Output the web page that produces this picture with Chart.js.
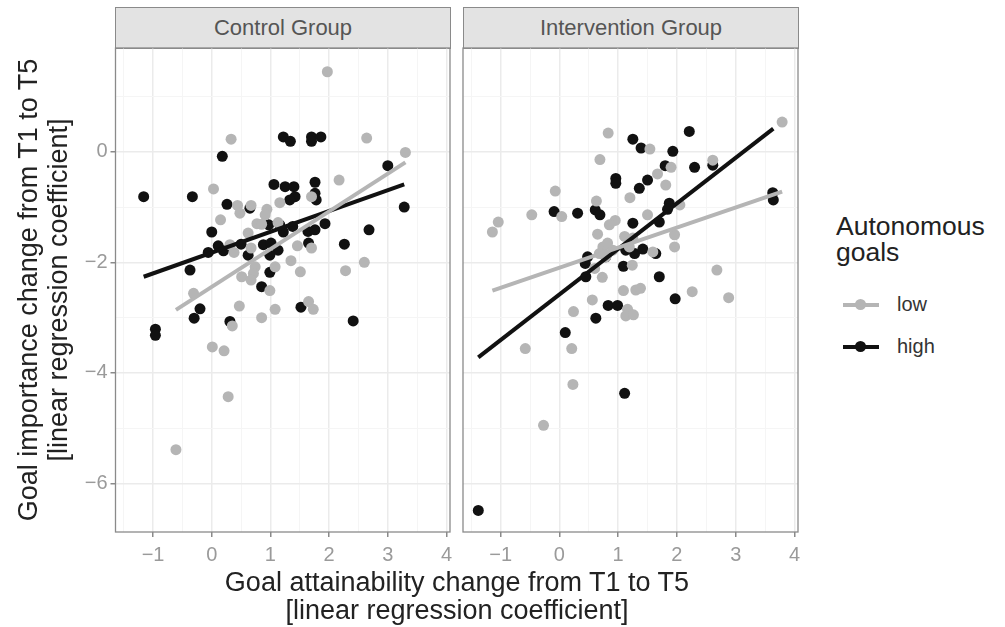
<!DOCTYPE html>
<html>
<head>
<meta charset="utf-8">
<script src="https://cdn.jsdelivr.net/npm/chart.js@4"></script>
<style>
  body { margin: 0; background: #fff; font-family: "Liberation Sans", Arial, sans-serif; }
  #wrap { position: relative; width: 1005px; height: 627px; overflow: hidden; }
  canvas { position: absolute; }
  .strip {
    position: absolute; top: 7px; height: 42px; box-sizing: border-box;
    background: #e3e3e3; border: 1.3px solid #8a8a8a;
    color: #555; font-size: 22px; text-align: center; line-height: 40px;
  }
  .ytitle {
    position: absolute; left: 43px; top: 290px; width: 560px;
    transform: translate(-50%, -50%) rotate(-90deg);
    text-align: center; font-size: 27px; line-height: 30px; color: #222;
  }
  .xtitle {
    position: absolute; left: 157px; top: 568px; width: 600px;
    text-align: center; font-size: 27px; line-height: 28px; color: #222;
  }
  .legtitle { position: absolute; left: 836px; top: 213px; font-size: 26.5px; line-height: 26px; color: #222; }
  .key { position: absolute; left: 843px; width: 36px; height: 4px; }
  .key i { position: absolute; left: 12px; top: -4px; width: 11px; height: 11px; border-radius: 50%; }
  .keylab { position: absolute; left: 897px; font-size: 20px; color: #333; }
</style>
</head>
<body>
<div id="wrap">
  <div class="strip" style="left:115px; width:336px;">Control Group</div>
  <div class="strip" style="left:463px; width:336px;">Intervention Group</div>
  <canvas id="ctrl" width="400" height="530" style="left:60px; top:40px;"></canvas>
  <canvas id="intv" width="360" height="530" style="left:455px; top:40px;"></canvas>
  <div class="ytitle">Goal importance change from T1 to T5<br>[linear regression coefficient]</div>
  <div class="xtitle">Goal attainability change from T1 to T5<br>[linear regression coefficient]</div>
  <div class="legtitle">Autonomous<br>goals</div>
  <div class="key" style="top:303px; background:#b5b5b5;"><i style="background:#b5b5b5;"></i></div>
  <div class="keylab" style="top:293px;">low</div>
  <div class="key" style="top:345px; background:#111;"><i style="background:#111;"></i></div>
  <div class="keylab" style="top:335px;">high</div>
</div>
<script>
// gruppen und farben
const groupNames = ['low', 'high'];
const groupColors = ['#b5b5b5', '#111111'];

// achsen
const xRange = [-1.64, 4.06];
const yRange = [-6.88, 1.88];
const xMajor = [-1, 0, 1, 2, 3, 4];
const xMinor = [-1.5, -0.5, 0.5, 1.5, 2.5, 3.5];
const yMajor = [-6, -4, -2, 0];
const yMinor = [-5, -3, -1, 1];

// Control Group, low
const ctrlLowX = [1.97, 0.33, 2.64, 3.30, 2.17, 0.03, 1.16, 1.70, 0.44, 0.48, 0.67, 0.94, 0.91, 0.15, 0.77, 1.13, 0.85,
  0.62, 0.31, 0.38, 0.67, 1.46, 1.70, 1.35, 1.08, 1.51, 0.74, 0.71, 0.51, 0.67, 2.28, 2.60, 0.99, -0.31, 0.47,
  1.08, 1.65, 1.73, 0.85, 0.35, 0.01, 0.21, 0.28, -0.61];
const ctrlLowY = [1.45, 0.23, 0.25, -0.01, -0.51, -0.67, -0.92, -0.81, -0.97, -1.11, -0.97, -1.04, -1.14, -1.23, -1.30, -1.28, -1.31,
  -1.47, -1.68, -1.82, -1.74, -1.70, -1.74, -1.97, -2.08, -2.17, -2.08, -2.20, -2.26, -2.32, -2.15, -2.00, -2.51, -2.56, -2.79,
  -2.85, -2.71, -2.85, -3.00, -3.15, -3.53, -3.60, -4.43, -5.39];

// Control Group, high
const ctrlHighX = [-1.16, -0.33, 0.18, 1.22, 1.34, 1.70, 1.86, 1.70, 3.00, 3.28, 1.06, 1.25, 1.40, 1.76, 1.42, 1.33, 1.76, 1.78,
  0.26, 0.65, 0.00, 0.97, 1.16, 1.38, 1.93, 1.64, 1.76, 2.68, 1.22, 0.11, -0.06, 0.20, 0.50, 0.88, 1.01, 1.13, 0.99, 0.62,
  1.65, 2.26, -0.37, 0.99, 0.85, 1.52, -0.20, -0.30, 0.31, 2.41, -0.96, -0.96];
const ctrlHighY = [-0.81, -0.81, -0.08, 0.27, 0.19, 0.27, 0.27, 0.19, -0.25, -1.00, -0.59, -0.63, -0.63, -0.55, -0.81, -0.87, -0.75, -0.87,
  -0.95, -1.02, -1.45, -1.32, -1.32, -1.35, -1.30, -1.44, -1.41, -1.41, -1.45, -1.70, -1.82, -1.79, -1.67, -1.68, -1.65, -1.78, -1.87, -1.87,
  -1.65, -1.67, -2.14, -2.18, -2.44, -2.81, -2.84, -3.01, -3.07, -3.06, -3.21, -3.32];

// Intervention Group, low
const intvLowX = [3.79, 0.83, 1.54, 0.69, 2.61, 1.90, 1.67, 1.81, -0.07, 0.63, 1.20, -0.47, 0.04, -1.04, 1.50, 2.05, 0.95, 0.85,
  -1.14, 0.65, 1.11, 1.96, 1.96, 0.74, 0.82, 0.91, 0.68, 0.79, 1.59, 1.25, 1.19, 0.60, 1.24, 0.73, 2.68, 1.09, 1.30, 1.38,
  2.26, 2.88, 0.56, 0.24, 1.16, 1.13, 1.26, -0.58, 0.21, 0.23, -0.27];
const intvLowY = [0.54, 0.34, 0.05, -0.14, -0.15, -0.28, -0.40, -0.60, -0.71, -0.89, -0.83, -1.14, -1.17, -1.27, -1.14, -0.96, -1.24, -1.32,
  -1.45, -1.49, -1.53, -1.50, -1.72, -1.72, -1.65, -1.78, -1.84, -1.90, -1.81, -1.56, -1.72, -2.11, -2.05, -2.27, -2.14, -2.51, -2.50, -2.47,
  -2.53, -2.64, -2.68, -2.89, -2.85, -2.97, -2.95, -3.56, -3.56, -4.21, -4.95];

// Intervention Group, high
const intvHighX = [2.21, 1.25, 1.39, 1.93, 1.80, 2.30, 2.61, 1.50, 0.96, 0.96, 1.36, 1.87, 1.84, -0.09, 0.31, 0.61, 0.69, 1.25,
  1.70, 3.63, 3.64, 0.48, 0.44, 0.79, 1.13, 1.28, 1.42, 1.64, 1.09, 0.45, 1.70, 1.97, 0.83, 0.99, 0.62, 0.10, 1.11, -1.38];
const intvHighY = [0.37, 0.23, 0.07, 0.01, -0.25, -0.28, -0.24, -0.51, -0.48, -0.57, -0.66, -0.93, -1.04, -1.08, -1.11, -1.05, -1.14, -1.29,
  -1.27, -0.74, -0.87, -1.90, -2.02, -1.90, -1.78, -1.84, -1.76, -1.84, -2.07, -2.26, -2.26, -2.66, -2.78, -2.78, -3.01, -3.27, -4.37, -6.49];

const ctrlLowFitX = [-0.61, 3.30], ctrlLowFitY = [-2.86, -0.19];
const ctrlHighFitX = [-1.16, 3.28], ctrlHighFitY = [-2.26, -0.59];
const intvLowFitX = [-1.14, 3.79], intvLowFitY = [-2.51, -0.72];
const intvHighFitX = [-1.38, 3.64], intvHighFitY = [-3.72, 0.42];

const toPts = (xs, ys) => xs.map((x, i) => ({ x: x, y: ys[i] }));
const fmt = v => (v < 0 ? '\u2212' + Math.abs(v) : String(v));

// rahmen um das panel
const panelBorder = {
  id: 'panelBorder',
  afterDraw(chart) {
    const a = chart.chartArea, c = chart.ctx;
    c.save();
    c.strokeStyle = '#8a8a8a';
    c.lineWidth = 1.3;
    c.strokeRect(a.left, a.top, a.right - a.left, a.bottom - a.top);
    c.restore();
  }
};

function makePanel(id, low, high, lowFit, highFit, showY, padRight) {
  const mk = (pts, color) => ({
    type: 'scatter', data: pts, backgroundColor: color, borderWidth: 0,
    pointRadius: 5.5, pointHoverRadius: 5.5, order: 2
  });
  const ln = (pts, color) => ({
    type: 'line', data: pts, borderColor: color, borderWidth: 4,
    pointRadius: 0, fill: false, order: 1
  });
  new Chart(document.getElementById(id), {
    type: 'scatter',
    data: {
      datasets: [
        mk(low, groupColors[0]),
        mk(high, groupColors[1]),
        ln(lowFit, groupColors[0]),
        ln(highFit, groupColors[1]),
      ],
    },
    options: {
      responsive: false,
      devicePixelRatio: 1,
      animation: false,
      events: [],
      layout: { padding: { top: 8, right: padRight, left: 0, bottom: 0 } },
      plugins: { legend: { display: false }, tooltip: { enabled: false } },
      scales: {
        x: {
          type: 'linear', min: xRange[0], max: xRange[1],
          afterBuildTicks: s => { s.ticks = xMajor.concat(xMinor).sort((a, b) => a - b).map(v => ({ value: v })); },
          afterFit: s => { s.height = 38; s.paddingLeft = 0; s.paddingRight = 0; },
          border: { display: false },
          grid: {
            color: c => xMajor.includes(c.tick.value) ? '#ebebeb' : '#f5f5f5',
            lineWidth: c => xMajor.includes(c.tick.value) ? 1.5 : 1,
            tickColor: c => xMajor.includes(c.tick.value) ? '#8a8a8a' : 'rgba(0,0,0,0)',
            tickLength: 5,
          },
          ticks: {
            autoSkip: false, maxRotation: 0, padding: 6,
            color: '#9a9a9a', font: { family: 'Liberation Sans', size: 20 },
            callback: v => xMajor.includes(v) ? fmt(v) : '',
          },
        },
        y: {
          type: 'linear', min: yRange[0], max: yRange[1],
          afterBuildTicks: s => { s.ticks = yMajor.concat(yMinor).sort((a, b) => a - b).map(v => ({ value: v })); },
          afterFit: s => { s.width = showY ? 55.5 : 8; s.paddingTop = 0; s.paddingBottom = 0; },
          border: { display: false },
          grid: {
            color: c => yMajor.includes(c.tick.value) ? '#ebebeb' : '#f5f5f5',
            lineWidth: c => yMajor.includes(c.tick.value) ? 1.5 : 1,
            tickColor: c => (showY && yMajor.includes(c.tick.value)) ? '#8a8a8a' : 'rgba(0,0,0,0)',
            tickLength: 5,
            drawTicks: showY,
          },
          ticks: {
            display: showY, autoSkip: false, padding: 3,
            color: '#9a9a9a', font: { family: 'Liberation Sans', size: 20 },
            callback: v => yMajor.includes(v) ? fmt(v) : '',
          },
        },
      },
    },
    plugins: [panelBorder],
  });
}

makePanel('ctrl', toPts(ctrlLowX, ctrlLowY), toPts(ctrlHighX, ctrlHighY),
  toPts(ctrlLowFitX, ctrlLowFitY), toPts(ctrlHighFitX, ctrlHighFitY), true, 10);
makePanel('intv', toPts(intvLowX, intvLowY), toPts(intvHighX, intvHighY),
  toPts(intvLowFitX, intvLowFitY), toPts(intvHighFitX, intvHighFitY), false, 17);
</script>
</body>
</html>
